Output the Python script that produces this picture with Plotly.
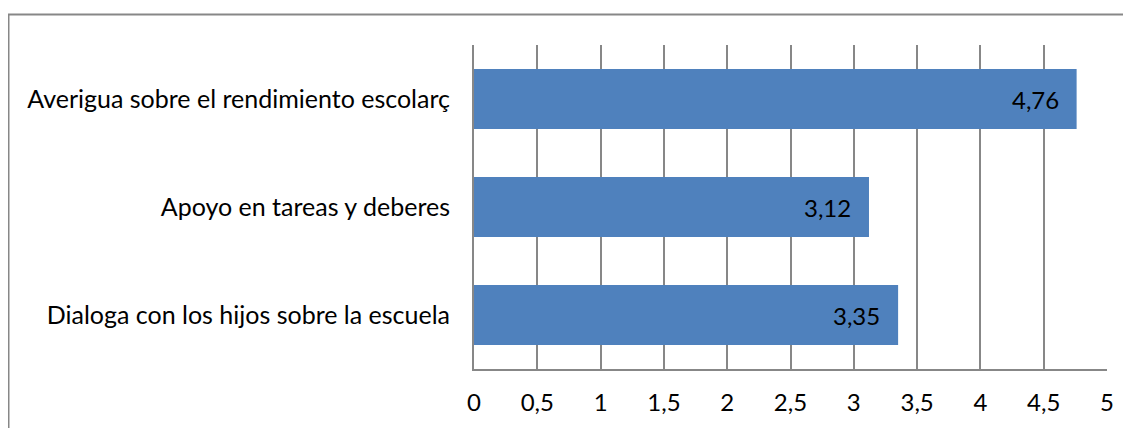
import plotly.graph_objects as go

categories = ["Dialoga con los hijos sobre la escuela", "Apoyo en tareas y deberes", "Averigua sobre el rendimiento escolarç"]
values = [3.35, 3.12, 4.76]
value_labels = ["3,35", "3,12", "4,76"]
tick_vals = [0, 0.5, 1, 1.5, 2, 2.5, 3, 3.5, 4, 4.5, 5]
tick_text = ["0", "0,5", "1", "1,5", "2", "2,5", "3", "3,5", "4", "4,5", "5"]

OFF = 8  # page offset of the figure
W, H = 1131 - OFF, 428 - OFF
L, T = 474 - OFF, 45 - OFF
pw, ph = 633, 324
R, B = W - L - pw, H - T - ph

def px_x(p):
    return (p - OFF - L) / pw

def px_y(p):
    return 1 - (p - OFF - T) / ph

font = "Lato, 'Open Sans', sans-serif"

fig = go.Figure(go.Bar(
    y=categories, x=values, orientation="h",
    marker=dict(color="#4F81BD", line=dict(width=0)),
    width=0.555,
    hoverinfo="x+y",
))

for c, v, t in zip(categories, values, value_labels):
    fig.add_annotation(x=v, y=c, text=t, showarrow=False, xanchor="right",
                       xshift=-16, font=dict(size=24, color="#000000", family=font))

fig.update_layout(
    width=W, height=H,
    margin=dict(l=L, r=R, t=T, b=B, autoexpand=False),
    plot_bgcolor="white", paper_bgcolor="white",
    showlegend=False,
    font=dict(family=font, size=24, color="#000000"),
    xaxis=dict(range=[0, 5], tickvals=tick_vals, ticktext=tick_text,
               showgrid=True, gridcolor="#878787", gridwidth=2,
               showline=True, linecolor="#878787", linewidth=2,
               zeroline=False, ticks="", ticklabelstandoff=11,
               tickfont=dict(size=24)),
    yaxis=dict(showgrid=False, showline=True, linecolor="#878787", linewidth=2,
               ticks="", ticklabelstandoff=17, tickfont=dict(size=25),
               range=[-0.5, 2.5]),
    shapes=[dict(type="rect", xref="paper", yref="paper",
                 x0=px_x(8.5), x1=px_x(1145), y0=px_y(445), y1=px_y(14.5),
                 line=dict(color="#878787", width=2), layer="below")],
)

fig.write_html("out.html")
